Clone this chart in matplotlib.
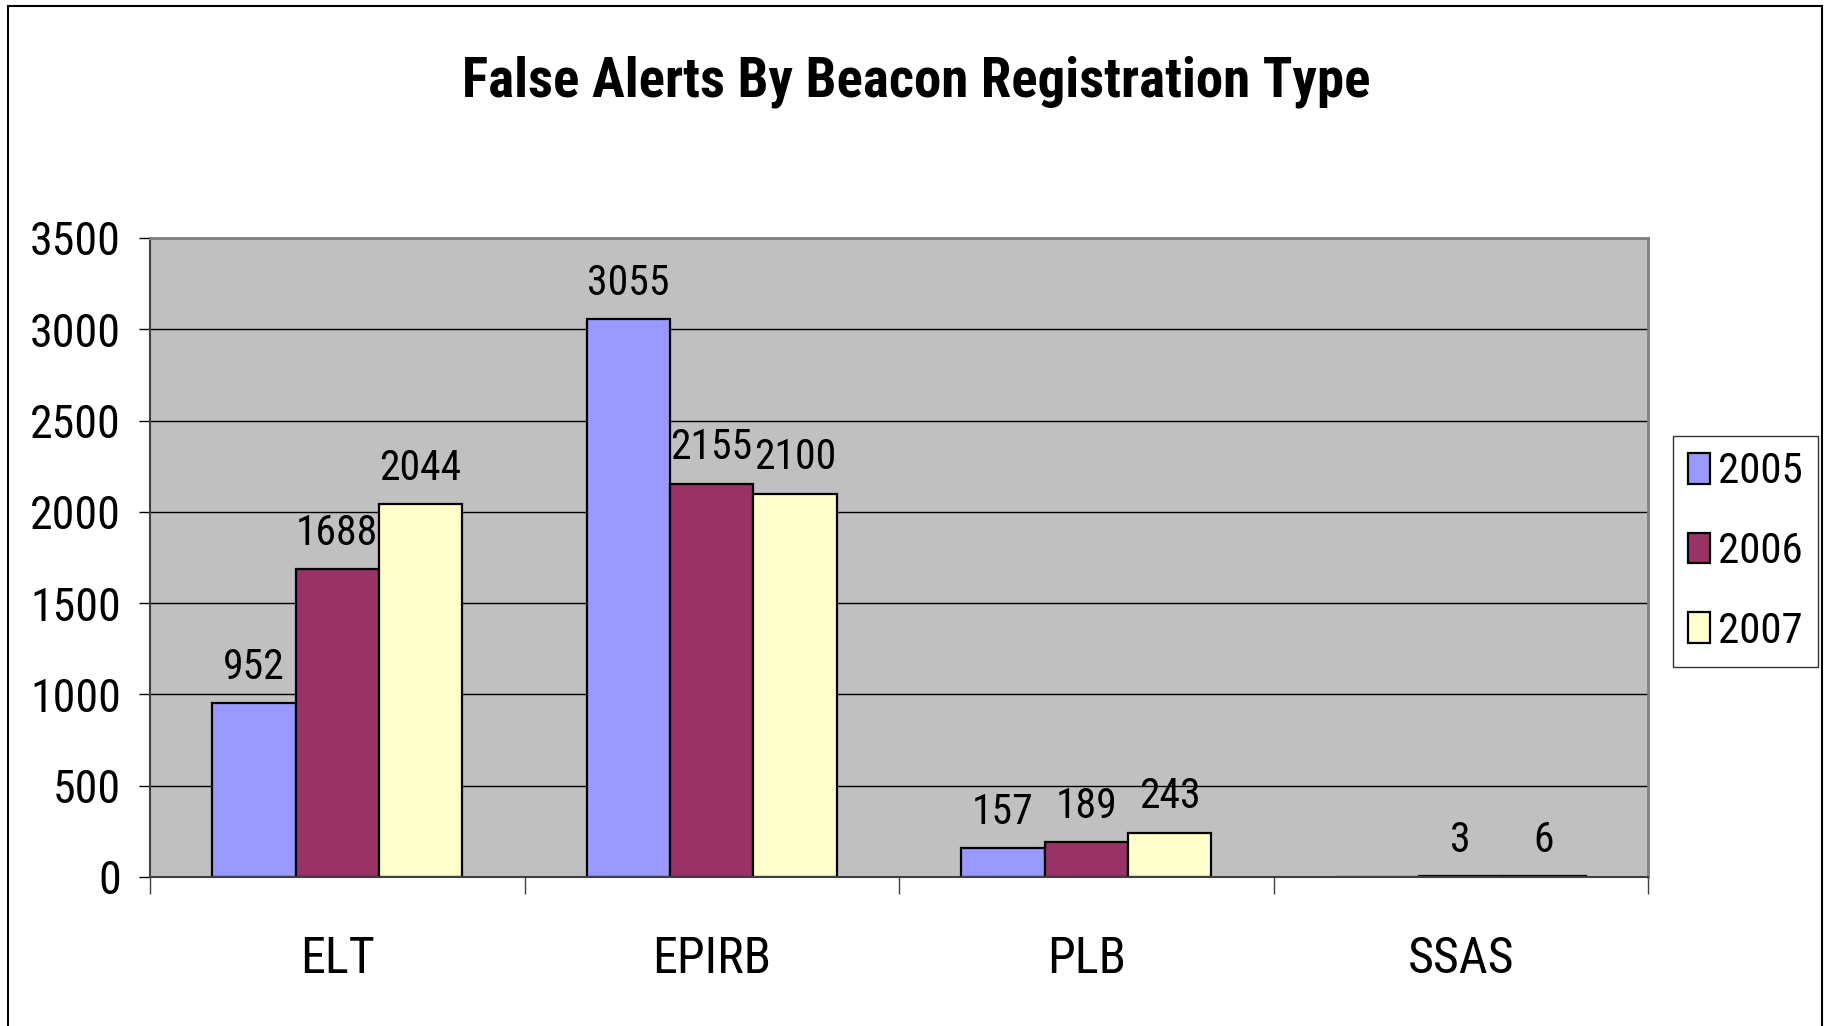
import numpy as np
import matplotlib
matplotlib.use("Agg")
from matplotlib import pyplot as plt
from matplotlib.patches import Rectangle

categories = ['ELT', 'EPIRB', 'PLB', 'SSAS']
years = ['2005', '2006', '2007']
v2005 = [952, 3055, 157, 0]
v2006 = [1688, 2155, 189, 3]
v2007 = [2044, 2100, 243, 6]
colors = ['#9999FF', '#993366', '#FFFFCC']
yticks = [0, 500, 1000, 1500, 2000, 2500, 3000, 3500]

plt.rcParams['font.family'] = ['Roboto Condensed', 'Archivo Narrow', 'PT Sans Narrow', 'DejaVu Sans']

W, H = 1830, 1026
fig = plt.figure(figsize=(W / 100, H / 100), dpi=100)
ax = fig.add_axes([150 / W, 1 - 877 / H, (1648 - 150) / W, (877 - 238) / H])
ax.set_facecolor('#C0C0C0')

x = np.arange(len(categories))
bw = 1 / 4.5
series = [v2005, v2006, v2007]
for i, vals in enumerate(series):
    bars = ax.bar(x + (i - 1) * bw, vals, bw, color=colors[i], edgecolor='black',
                  linewidth=1.6, label=years[i], zorder=2)
    for b, v in zip(bars, vals):
        if v > 0:
            ax.annotate(str(v), (b.get_x() + b.get_width() / 2, v), xytext=(0, 11),
                        textcoords='offset points', ha='center', va='bottom', fontsize=30)

ax.set_xlim(-0.5, len(categories) - 0.5)
ax.set_ylim(0, 3500)
ax.set_yticks(yticks)
ax.yaxis.grid(True, color='black', linewidth=1.0, zorder=0)
ax.set_axisbelow(True)
ax.tick_params(axis='y', labelsize=33, length=8, width=1, pad=13)

# ticks on category boundaries, labels in the middle
ax.set_xticks(np.arange(len(categories) + 1) - 0.5)
ax.set_xticklabels([])
ax.set_xticks(x, minor=True)
ax.set_xticklabels(categories, minor=True, fontsize=36)
ax.tick_params(axis='x', which='major', length=12, width=1, color='#404040')
ax.tick_params(axis='x', which='minor', length=0, pad=42)

for s in ['top', 'right']:
    ax.spines[s].set_color('#808080')
    ax.spines[s].set_linewidth(2)
ax.spines['left'].set_color('#404040')
ax.spines['left'].set_linewidth(1.5)
ax.spines['bottom'].set_color('#404040')
ax.spines['bottom'].set_linewidth(1.5)
for s in ax.spines.values():
    s.set_zorder(3)

fig.text(916 / W, 1 - 82 / H, 'False Alerts By Beacon Registration Type', ha='center',
         va='center', fontsize=39.5, fontweight='bold')

leg = fig.legend(loc='center left', bbox_to_anchor=(1673 / W, 1 - 551.5 / H), fontsize=31,
                 frameon=True, fancybox=False, edgecolor='black', handlelength=0.5,
                 handleheight=0.72, handletextpad=0.2, labelspacing=0.9, borderpad=0.35,
                 borderaxespad=0)
leg.get_frame().set_linewidth(1.0)

fig.patches.append(Rectangle((8 / W, -0.01), (1822 - 8) / W, 1.01 - 6 / H, transform=fig.transFigure,
                             fill=False, edgecolor='black', linewidth=1.5))

fig.savefig('out.png', dpi=100)
